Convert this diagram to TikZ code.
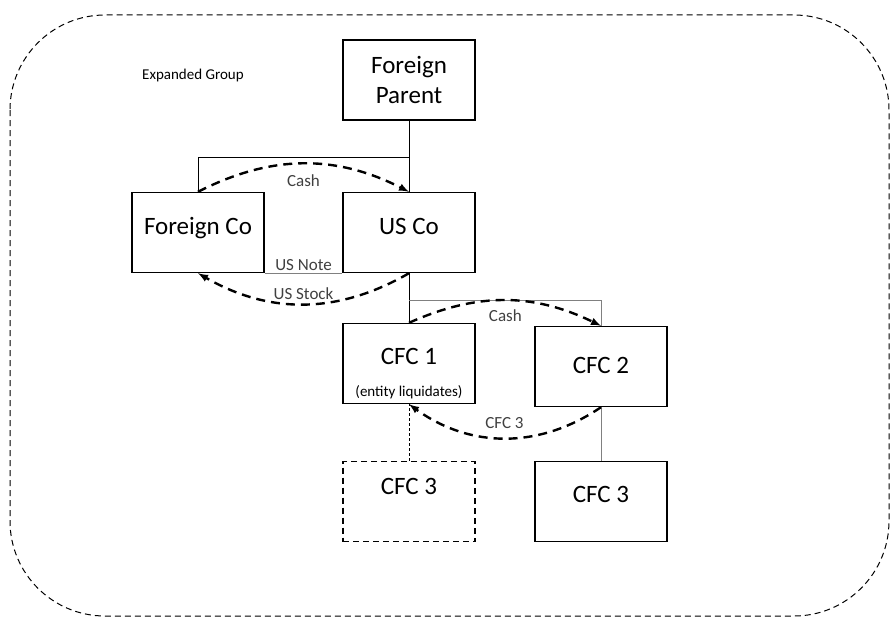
\documentclass[tikz,border=0pt]{standalone}
\usepackage{fontspec}
\setmainfont{Carlito}
\usetikzlibrary{arrows,positioning}
\begin{document}
\begin{tikzpicture}[x=1pt,y=-1pt,>=latex,
  entity/.style={draw,line width=1.4pt,minimum width=132pt,minimum height=80pt,inner sep=0pt,font=\fontsize{25}{30}\selectfont},
  lift/.style={text height=18pt,text depth=#1},
  flow/.style={line width=2.4pt,dash pattern=on 9pt off 6pt},
  link/.style={line width=0.8pt},
  faint/.style={line width=0.8pt,gray},
  tag/.style={font=\fontsize{17}{20}\selectfont,text=black!75,inner sep=1pt}]
%%Frame
\useasboundingbox (0,0) rectangle (891,618);
\draw[line width=1pt,dash pattern=on 6pt off 4pt,rounded corners=95pt] (10,15) rectangle (889,616);
\node[font=\fontsize{15}{18}\selectfont] (grp) at (193,76) {Expanded Group};
%%Entities
\node[entity,align=center] (fp) at (409,80) {Foreign\\Parent};
\node[entity,lift=14pt] (fco) at (198,232.5) {Foreign Co};
\node[entity,lift=14pt] (usco) at (409,232.5) {US Co};
\node[entity,lift=17pt,label={[anchor=south,yshift=3pt,inner sep=2pt,font=\fontsize{15}{17}\selectfont]south:(entity liquidates)}] (cfc1) at (409,363.5) {CFC 1};
\node[entity,lift=4pt] (cfc2) at (601,366.5) {CFC 2};
\node[entity,lift=32pt,dashed,dash pattern=on 6pt off 4pt] (cfc3a) at (409,501.5) {CFC 3};
\node[entity,lift=16pt] (cfc3b) at (601,501.5) {CFC 3};
%%Ownership
\coordinate (top) at (409,157);
\coordinate (split) at (409,300);
\draw[link] (fp.south) -- (top) -| (fco.north);
\draw[link] (top) -- (usco.north);
\draw[link] (usco.south) -- (cfc1.north);
\draw[faint] (split) -| (cfc2.north);
\draw[faint] (fco.south east) -- (usco.south west) node[tag,midway,above=1pt] {US Note};
\draw[link,dash pattern=on 3pt off 2pt] (cfc3a.north) -- (cfc1.south);
\draw[faint] (cfc2.south) -- (cfc3b.north);
%%Transfers
\draw[flow,->] (fco.north) to[bend left=27] node[tag,midway,below=9pt] {Cash} (usco.north);
\draw[flow,->] (usco.south) to[bend left=30] node[tag,midway,above=2pt] {US Stock} (fco.south);
\draw[flow,->] (cfc1.north) to[bend left=25] node[tag,midway,below=7pt] {Cash} (cfc2.north);
\draw[flow,->] (cfc2.south) to[bend left=35] node[tag,midway,above=7pt] {CFC 3} (cfc1.south);
\end{tikzpicture}
\end{document}
